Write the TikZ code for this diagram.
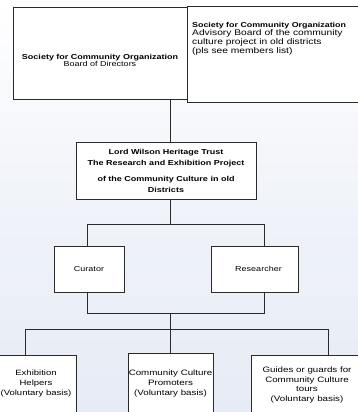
\documentclass[tikz,border=0pt]{standalone}
\usepackage{fontspec}
\setmainfont{Liberation Sans}[FakeStretch=1.25]
\usetikzlibrary{positioning}
\definecolor{skyblue}{HTML}{E6EBF5}
\definecolor{edgegray}{HTML}{2A2A2A}

\begin{document}
\begin{tikzpicture}[x=1pt, y=-1pt,
  box/.style={draw=edgegray, line width=0.9pt, fill=white, rectangle, inner sep=0pt, align=center},
  txt/.style={align=center, inner sep=0pt},
  small/.style={font=\fontsize{7.2}{10}\selectfont},
  line/.style={-, draw=edgegray, line width=0.9pt}
]
\clip (0,0) rectangle (358,412);
\fill[top color=white, bottom color=skyblue, middle color=skyblue!60] (0,0) rectangle (358,412);

% top boxes
\node[box, minimum width=174pt, minimum height=92pt] (board) at (100,53) {};
\node[txt, font=\fontsize{7.2}{6}\selectfont] (boardtxt) at (100,60.5)
  {{\bfseries Society for Community Organization}\\Board of Directors};
\node[box, minimum width=178pt, minimum height=96pt] (advisory) at (276,54) {};
\node[txt, align=left, anchor=north west, font=\fontsize{8.2}{7.3}\selectfont] (advtxt) at (192,22)
  {{\fontsize{7.1}{7.3}\selectfont\bfseries Society for Community Organization}\\
   Advisory Board of the community\\culture project in old districts\\(pls see members list)};

% project box
\node[box, minimum width=180pt, minimum height=57pt, font=\fontsize{7.2}{11}\selectfont\bfseries] (trust) at (166,170.5)
  {Lord Wilson Heritage Trust\\The Research and Exhibition Project\\[5pt]
   of the Community Culture in old\\Districts};

% staff
\node[box, small, minimum width=70pt, minimum height=46pt] (curator) at (89,269) {Curator};
\node[box, small, minimum width=87pt, minimum height=46pt] (researcher) at (254.5,269) {\hspace*{8pt}Researcher};

% volunteers
\node[box, minimum width=80pt, minimum height=58pt, font=\fontsize{7.6}{10}\selectfont] (helpers) at (36,384)
  {Exhibition\\Helpers\\(Voluntary basis)};
\node[box, minimum width=85pt, minimum height=61pt, font=\fontsize{7.8}{9.6}\selectfont] (promoters) at (170.5,383.5)
  {Community Culture\\Promoters\\(Voluntary basis)};
\node[box, minimum width=112pt, minimum height=60pt, font=\fontsize{7.8}{9.6}\selectfont] (guides) at (307,385)
  {Guides or guards for\\Community Culture\\tours\\(Voluntary basis)};

% junctions
\coordinate (mid) at (170,0);
\coordinate (busL) at (87,224);
\coordinate (busR) at (264,224);
\coordinate (lowL) at (87,313);
\coordinate (lowR) at (264,313);
\coordinate (lowM) at (170,313);
\coordinate (forkL) at (25,329);
\coordinate (forkM) at (170,329);
\coordinate (forkR) at (328,329);

\draw[line] (board.south -| mid) -- (trust.north -| mid);
\draw[line] (trust.south -| mid) -- (busL -| mid);
\draw[line] (busL |- curator.north) -- (busL) -- (busR) -- (busR |- researcher.north);
\draw[line] (curator.south -| lowL) -- (lowL) -- (lowR) -- (researcher.south -| lowR);
\draw[line] (lowM) -- (forkM);
\draw[line] (forkL) -- (forkR);
\draw[line] (forkL) -- (forkL |- helpers.north);
\draw[line] (forkM) -- (forkM |- promoters.north);
\draw[line] (forkR) -- (forkR |- guides.north);
\end{tikzpicture}
\end{document}
